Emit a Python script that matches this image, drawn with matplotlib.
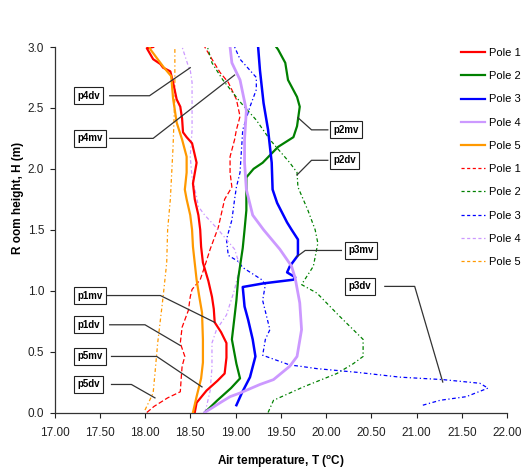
import matplotlib
matplotlib.use("Agg")
import matplotlib.pyplot as plt
from matplotlib.lines import Line2D

plt.rcParams['font.family'] = ['Liberation Sans', 'DejaVu Sans']
plt.rcParams['mathtext.fontset'] = 'custom'
plt.rcParams['mathtext.rm'] = 'Liberation Sans'
plt.rcParams['mathtext.bf'] = 'Liberation Sans:bold'

# ---------------- data (T in degC, H in m) ----------------
p1mv_T = [18.55, 18.57, 18.68, 18.80, 18.88, 18.90, 18.90, 18.84, 18.77, 18.76, 18.74, 18.70, 18.64,
          18.62, 18.61, 18.59, 18.55, 18.53, 18.57, 18.52, 18.46, 18.42, 18.41, 18.39, 18.35, 18.31,
          18.28, 18.20, 18.17, 18.09, 18.02, 18.09]
p1mv_H = [0.00, 0.08, 0.18, 0.26, 0.32, 0.45, 0.57, 0.66, 0.74, 0.85, 0.95, 1.08, 1.23,
          1.36, 1.50, 1.62, 1.75, 1.88, 2.05, 2.21, 2.26, 2.30, 2.41, 2.51, 2.57, 2.71,
          2.80, 2.83, 2.86, 2.90, 2.99, 3.00]

p2mv_T = [18.66, 18.80, 18.95, 19.05, 19.01, 18.98, 18.96, 18.99, 19.01, 19.03, 19.05, 19.08, 19.10,
          19.12, 19.12, 19.12, 19.20, 19.30, 19.47, 19.64, 19.68, 19.71, 19.68, 19.58, 19.55, 19.47, 19.45]
p2mv_H = [0.00, 0.10, 0.20, 0.28, 0.40, 0.52, 0.60, 0.79, 0.92, 1.10, 1.20, 1.35, 1.50,
          1.66, 1.83, 1.93, 2.00, 2.05, 2.18, 2.26, 2.35, 2.51, 2.59, 2.73, 2.87, 2.98, 3.00]

p3mv_T = [19.01, 19.07, 19.16, 19.22, 19.19, 19.14, 19.10, 19.08, 19.31, 19.64, 19.66, 19.57, 19.60,
          19.69, 19.69, 19.62, 19.57, 19.46, 19.41, 19.40, 19.36, 19.31, 19.27, 19.25]
p3mv_H = [0.06, 0.16, 0.29, 0.46, 0.60, 0.76, 0.87, 1.03, 1.06, 1.09, 1.11, 1.15, 1.20,
          1.29, 1.42, 1.50, 1.56, 1.72, 1.83, 2.05, 2.32, 2.54, 2.81, 3.00]

p4mv_T = [18.66, 18.83, 18.94, 19.05, 19.27, 19.42, 19.60, 19.68, 19.73, 19.71, 19.66, 19.62, 19.49,
          19.31, 19.19, 19.12, 19.10, 19.10, 19.12, 19.05, 18.96, 18.94]
p4mv_H = [0.00, 0.08, 0.13, 0.16, 0.23, 0.27, 0.38, 0.46, 0.68, 0.90, 1.10, 1.20, 1.34,
          1.50, 1.62, 1.83, 2.05, 2.24, 2.48, 2.73, 2.87, 3.00]

p5mv_T = [18.53, 18.57, 18.62, 18.64, 18.64, 18.63, 18.60, 18.57, 18.53, 18.52, 18.50, 18.46, 18.44,
          18.46, 18.46, 18.41, 18.35, 18.31, 18.29, 18.20, 18.13, 18.06, 18.05]
p5mv_H = [0.00, 0.13, 0.28, 0.41, 0.60, 0.82, 0.95, 1.09, 1.36, 1.50, 1.62, 1.75, 1.83,
          1.97, 2.10, 2.24, 2.38, 2.58, 2.76, 2.84, 2.91, 2.98, 3.00]

p1dv_T = [18.02, 18.10, 18.25, 18.39, 18.40, 18.41, 18.44, 18.39, 18.41, 18.45, 18.48, 18.50, 18.52,
          18.61, 18.66, 18.72, 18.81, 18.88, 18.96, 18.94, 18.94, 18.99, 19.01, 19.05, 19.01, 18.92,
          18.83, 18.74, 18.66]
p1dv_H = [0.00, 0.05, 0.12, 0.17, 0.28, 0.38, 0.46, 0.57, 0.70, 0.78, 0.84, 0.95, 1.01,
          1.09, 1.20, 1.34, 1.52, 1.75, 1.85, 1.97, 2.10, 2.24, 2.32, 2.43, 2.57, 2.71,
          2.79, 2.90, 3.00]

p2dv_T = [19.36, 19.42, 19.60, 19.75, 20.12, 20.30, 20.41, 20.41, 20.15, 19.90, 19.73, 19.86, 19.91,
          19.88, 19.80, 19.69, 19.68, 19.60, 19.38, 19.23, 19.05, 18.86, 18.74, 18.69]
p2dv_H = [0.00, 0.10, 0.16, 0.21, 0.32, 0.40, 0.46, 0.60, 0.79, 0.98, 1.05, 1.20, 1.39,
          1.50, 1.66, 1.85, 1.97, 2.05, 2.24, 2.40, 2.55, 2.73, 2.87, 3.00]

p3dv_T = [21.07, 21.26, 21.55, 21.79, 21.70, 21.29, 20.82, 20.34, 19.90, 19.71, 19.60, 19.30, 19.33,
          19.38, 19.34, 19.30, 19.33, 19.29, 19.08, 19.03, 18.92, 18.90, 18.96, 18.99, 19.01, 19.05,
          19.08, 19.16, 19.23, 19.23, 19.05, 18.99]
p3dv_H = [0.06, 0.10, 0.13, 0.20, 0.24, 0.27, 0.29, 0.33, 0.36, 0.38, 0.39, 0.47, 0.60,
          0.68, 0.80, 0.92, 1.05, 1.09, 1.19, 1.24, 1.29, 1.42, 1.58, 1.75, 1.85, 1.97,
          2.32, 2.51, 2.65, 2.75, 2.90, 3.00]

p4dv_T = [18.66, 18.68, 18.72, 18.74, 18.74, 18.79, 18.90, 18.99, 19.05, 18.99, 18.81, 18.66, 18.59,
          18.57, 18.52, 18.50, 18.52, 18.52, 18.52, 18.50, 18.48, 18.41]
p4dv_H = [0.00, 0.05, 0.18, 0.37, 0.57, 0.68, 0.80, 1.01, 1.20, 1.34, 1.50, 1.62, 1.69,
          1.77, 1.93, 2.10, 2.32, 2.51, 2.71, 2.81, 2.84, 3.00]

p5dv_T = [18.00, 18.09, 18.11, 18.14, 18.20, 18.24, 18.25, 18.28, 18.31, 18.33, 18.33]
p5dv_H = [0.02, 0.16, 0.32, 0.57, 0.95, 1.23, 1.50, 1.75, 2.18, 2.60, 3.00]

legend_labels = ['Pole 1', 'Pole 2', 'Pole 3', 'Pole 4', 'Pole 5']
pole_colors = ['#ff0000', '#008000', '#0000ff', '#cc99ff', '#ff9900']

x_ticks = [17.0, 17.5, 18.0, 18.5, 19.0, 19.5, 20.0, 20.5, 21.0, 21.5, 22.0]
y_ticks = [0.0, 0.5, 1.0, 1.5, 2.0, 2.5, 3.0]

# annotation labels: (text, box-left T, box H, elbow T, target T, target H)
ann_text = ['p4dv', 'p4mv', 'p2mv', 'p2dv', 'p3mv', 'p3dv', 'p1mv', 'p1dv', 'p5mv', 'p5dv']
ann_box_T = [17.25, 17.25, 20.08, 20.08, 20.25, 20.25, 17.25, 17.25, 17.25, 17.25]
ann_box_H = [2.60, 2.25, 2.32, 2.07, 1.33, 1.035, 0.96, 0.72, 0.46, 0.23]
ann_start_T = [17.61, 17.61, 20.02, 20.02, 20.17, 20.65, 17.57, 17.61, 17.63, 17.63]
ann_elbow_T = [18.05, 18.09, 19.84, 19.84, 19.77, 20.98, 18.17, 18.00, 18.13, 17.85]
ann_tgt_T = [18.50, 18.99, 19.69, 19.68, 19.68, 21.29, 18.77, 18.39, 18.63, 18.11]
ann_tgt_H = [2.83, 2.77, 2.42, 1.95, 1.28, 0.25, 0.74, 0.55, 0.21, 0.12]

# ---------------- figure ----------------
fig = plt.figure(figsize=(5.23, 4.69), dpi=100)
ax = fig.add_axes([54.5 / 523, 1 - 412.5 / 469, (507 - 54.5) / 523, (412.5 - 47) / 469])

mv = [(p1mv_T, p1mv_H), (p2mv_T, p2mv_H), (p3mv_T, p3mv_H), (p4mv_T, p4mv_H), (p5mv_T, p5mv_H)]
dv = [(p1dv_T, p1dv_H), (p2dv_T, p2dv_H), (p3dv_T, p3dv_H), (p4dv_T, p4dv_H), (p5dv_T, p5dv_H)]

mv_lw = [1.6, 1.6, 1.8, 2.0, 1.6]
for (t, h), c, lw in zip(mv, pole_colors, mv_lw):
    ax.plot(t, h, color=c, lw=lw, solid_joinstyle='round', zorder=3)
dv_styles = [(0, (4, 2)), (0, (3, 2, 1, 2)), (0, (3, 2, 1, 2)), (0, (3, 2, 1, 2)), (0, (3, 2, 1, 2))]
for (t, h), c, ls in zip(dv, pole_colors, dv_styles):
    ax.plot(t, h, color=c, lw=0.9, linestyle=ls, zorder=2)

ax.set_xlim(17, 22)
ax.set_ylim(0, 3)
ax.set_xticks(x_ticks)
ax.set_yticks(y_ticks)
ax.set_xticklabels([f'{v:.2f}' for v in x_ticks])
ax.set_yticklabels([f'{v:.1f}' for v in y_ticks])
ax.tick_params(axis='both', direction='out', length=3.5, width=0.8, labelsize=8.5, colors='#222222')
ax.tick_params(axis='x', pad=7)
ax.tick_params(axis='y', pad=4)
for s in ['top', 'right']:
    ax.spines[s].set_visible(False)
for s in ['left', 'bottom']:
    ax.spines[s].set_linewidth(0.9)
    ax.spines[s].set_color('#333333')

ax.set_xlabel(r'Air temperature, T ($^{\mathbf{o}}$C)', fontsize=8.5, fontweight='bold')
ax.xaxis.set_label_coords(0.5, -0.11)
ax.set_ylabel('R oom height, H (m)', fontsize=8.5, fontweight='bold')
ax.yaxis.set_label_coords(-0.068, 0.587)

# annotations
for txt, bx, bh, sx, ex, tx, th in zip(ann_text, ann_box_T, ann_box_H, ann_start_T,
                                       ann_elbow_T, ann_tgt_T, ann_tgt_H):
    ax.text(bx, bh, txt, fontsize=7, fontweight='bold', ha='left', va='center', zorder=6,
            bbox=dict(boxstyle='square,pad=0.35', fc='white', ec='#222222', lw=0.8))
    ax.plot([sx, ex, tx], [bh, bh, th], color='#333333', lw=0.9, zorder=5, clip_on=False)

# legend
handles = [Line2D([0], [0], color=c, lw=1.6) for c in pole_colors] + \
          [Line2D([0], [0], color=c, lw=0.9, linestyle=(0, (2.5, 2))) for c in pole_colors]
labels = legend_labels + legend_labels
fig.legend(handles, labels, loc='upper left', bbox_to_anchor=(461 / 523, 1 - 48 / 469),
           frameon=False, fontsize=8, borderpad=0, borderaxespad=0, handlelength=2.15,
           handletextpad=0.36, labelspacing=1.19)

fig.savefig('out.png', dpi=100)
